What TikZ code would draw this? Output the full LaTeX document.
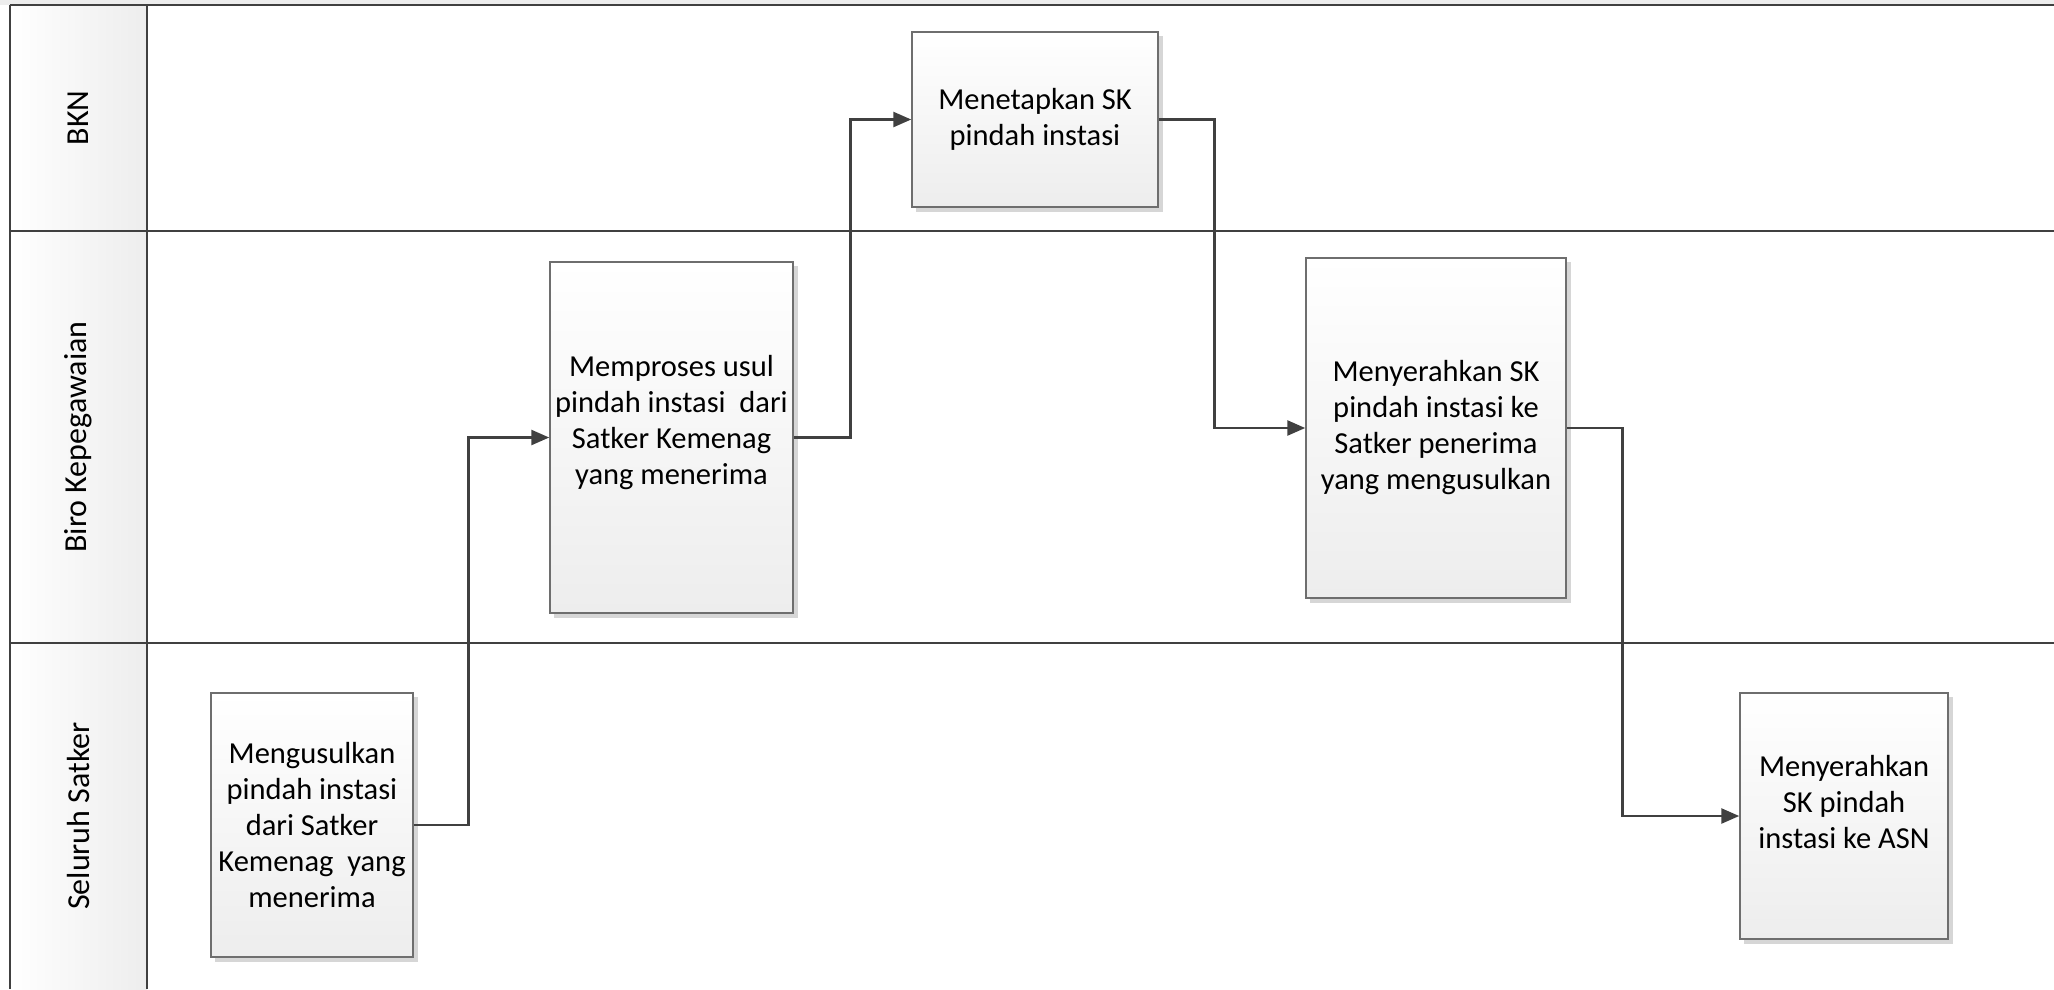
\documentclass[tikz,border=0pt]{standalone}
\usepackage{fontspec}
\setmainfont{Carlito}
\usetikzlibrary{arrows.meta,positioning}
\definecolor{lanecol}{HTML}{404040}
\definecolor{boxline}{HTML}{6E6E6E}
\definecolor{boxbot}{HTML}{EDEDED}
\definecolor{shadowc}{HTML}{D6D6D6}
\tikzset{
  procbox/.style={draw=boxline, line width=1.5pt, top color=white, bottom color=boxbot,
    align=center, font=\fontsize{30.5}{36}\selectfont, inner sep=0pt},
  shadowbox/.style={fill=shadowc, draw=none},
  conn/.style={draw=lanecol, line width=2.6pt, -{Triangle[length=18pt,width=15pt]}},
  laneline/.style={draw=lanecol, line width=2.6pt},
  lanelabel/.style={rotate=90, font=\fontsize{32}{38}\selectfont}
}
\begin{document}
\begin{tikzpicture}[x=1pt,y=-1pt]
\useasboundingbox (0,0) rectangle (2054,989);
% top band
\fill[boxbot] (0,0) rectangle (2054,5);
% label column
\shade[left color=white, right color=boxbot] (10,5) rectangle (147,989);
% lane lines
\draw[laneline] (10,5) -- (2054,5);
\draw[laneline] (10,231) -- (2054,231);
\draw[laneline] (10,643) -- (2054,643);
\draw[laneline] (10,5) -- (10,989);
\draw[laneline] (147,5) -- (147,989);
% lane labels
\node[lanelabel] (lbkn) at (78.5,118) {BKN};
\node[lanelabel] (lbiro) at (78.5,437) {Biro Kepegawaian};
\node[lanelabel] (lsat) at (78.5,816) {Seluruh Satker};
% shadows
\fill[shadowbox] (215,697) rectangle (418,962);
\fill[shadowbox] (554,266) rectangle (798,618);
\fill[shadowbox] (916,36) rectangle (1163,212);
\fill[shadowbox] (1310,262) rectangle (1571,603);
\fill[shadowbox] (1744,697) rectangle (1953,944);
% boxes
\node[procbox, minimum width=202pt, minimum height=264pt] (b1) at (312,825)
  {Mengusulkan\\pindah instasi\\dari Satker\\Kemenag\ \ yang\\menerima};
\node[procbox, minimum width=243pt, minimum height=351pt] (b2) at (671.5,437.5)
  {Memproses usul\\pindah instasi\ \ dari\\Satker Kemenag\\yang menerima\\\mbox{}};
\node[procbox, minimum width=246pt, minimum height=175pt] (b3) at (1035,119.5)
  {Menetapkan SK\\pindah instasi};
\node[procbox, minimum width=260pt, minimum height=340pt] (b4) at (1436,428)
  {Menyerahkan SK\\pindah instasi ke\\Satker penerima\\yang mengusulkan};
\node[procbox, minimum width=208pt, minimum height=246pt] (b5) at (1844,816)
  {Menyerahkan\\SK pindah\\instasi ke ASN\\[-8pt]\mbox{}};
% connectors
\draw[conn] (b1.east) -- ++(55,0) |- (b2.west);
\draw[conn] (b2.east) -- ++(57,0) |- (b3.west);
\draw[conn] (b3.east) -- ++(56,0) |- (b4.west);
\draw[conn] (b4.east) -- ++(56,0) |- (b5.west);
\end{tikzpicture}
\end{document}
